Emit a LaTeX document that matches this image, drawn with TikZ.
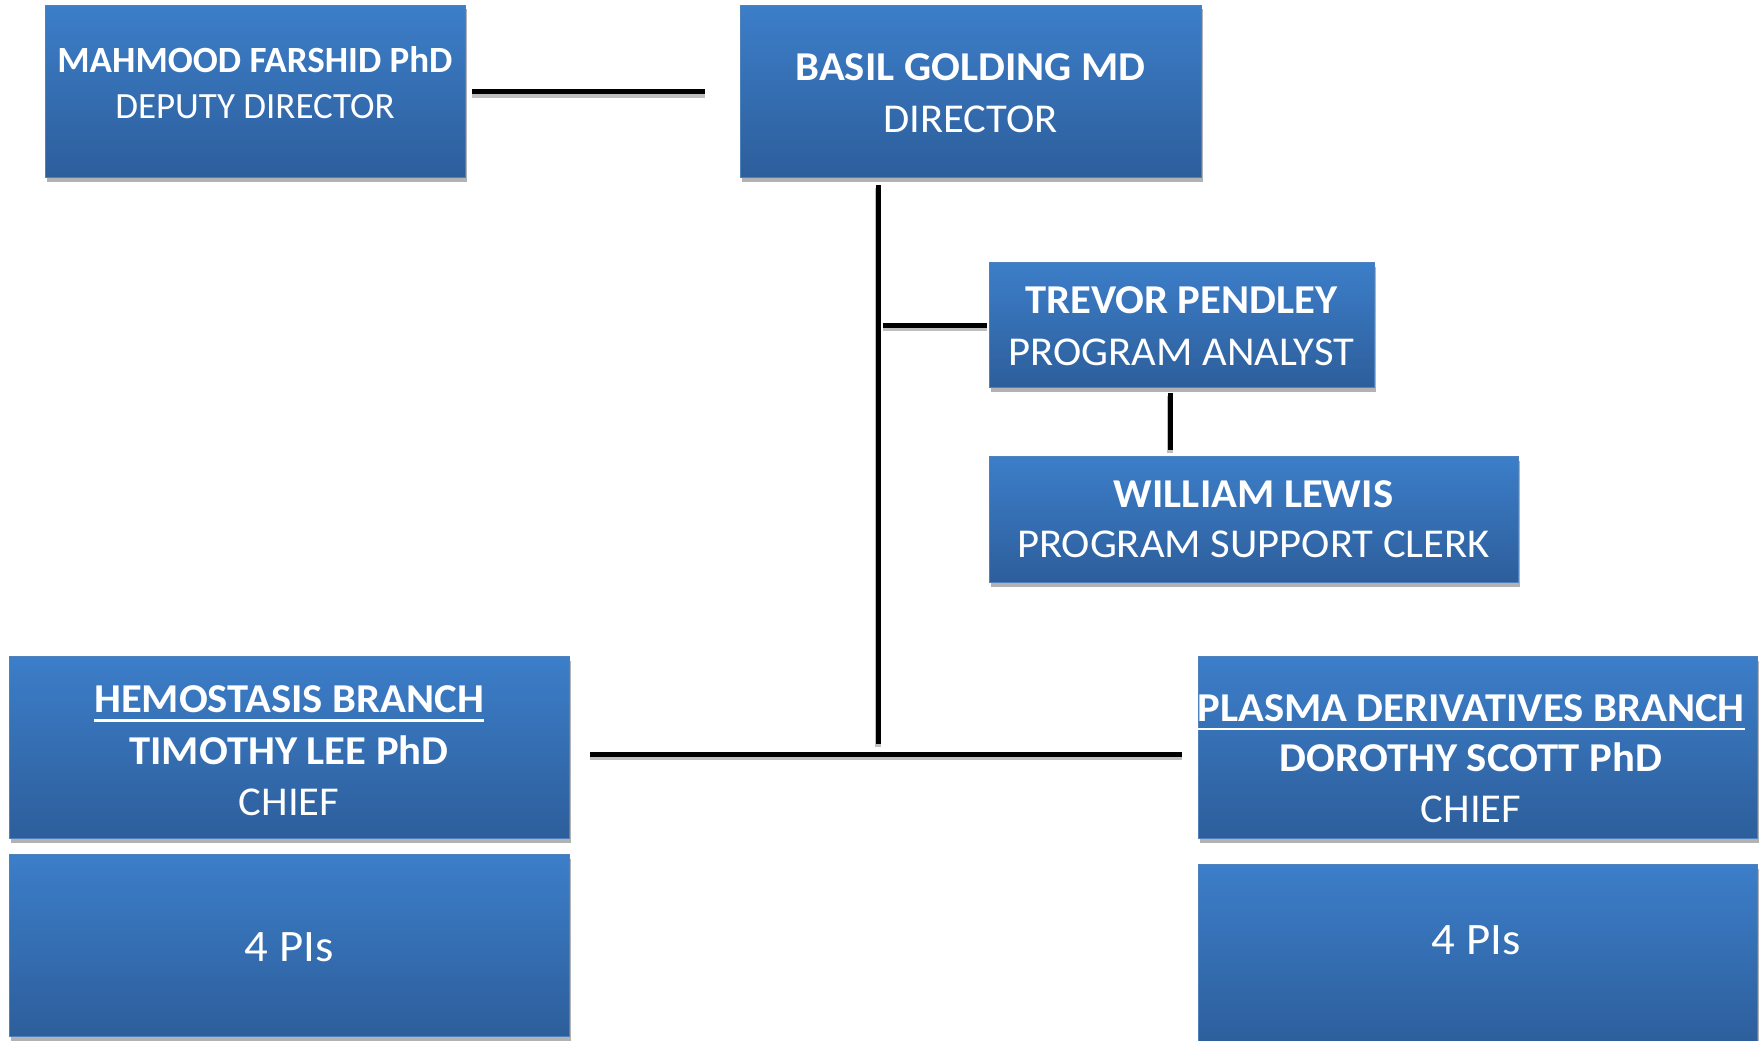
\documentclass[tikz,border=0pt]{standalone}
\usepackage{fontspec}
\setmainfont{Carlito}
\newfontfamily\widefont[FakeStretch=1.04]{Carlito}
\usetikzlibrary{shadows}
\definecolor{btop}{RGB}{60,126,201}
\definecolor{bbot}{RGB}{45,94,155}
\definecolor{bline}{RGB}{79,129,189}
\newsavebox\myulbox
\newcommand\myul[1]{\sbox\myulbox{#1}\rlap{\usebox\myulbox}\rule[-9pt]{\wd\myulbox}{2.5pt}}
\tikzset{
  box/.style={rectangle, draw=bline, line width=1pt, top color=btop, bottom color=bbot,
    inner sep=0pt, anchor=north west,
    drop shadow={shadow xshift=1pt, shadow yshift=-4pt, opacity=0.3, fill=black}},
  lbl/.style={text=white, align=center, inner sep=0pt},
  conn/.style={line width=5pt, draw=black,
    preaction={draw=black, opacity=0.25, line width=6pt, transform canvas={yshift=-3pt}}},
}
\begin{document}
\begin{tikzpicture}[x=1pt,y=-1pt]
\fill[white] (0,0) rectangle (1761,1041);
\useasboundingbox (0,0) rectangle (1761,1041);

% boxes
\node[box, minimum width=420pt, minimum height=172pt] (mah) at (45,5) {};
\node[box, minimum width=461pt, minimum height=172pt] (bas) at (740,5) {};
\node[box, minimum width=385pt, minimum height=125pt] (tre) at (989,262) {};
\node[box, minimum width=529pt, minimum height=126pt] (wil) at (989,456) {};
\node[box, minimum width=560pt, minimum height=182pt] (hem) at (9,656) {};
\node[box, minimum width=560pt, minimum height=182pt] (hpi) at (9,854) {};
\node[box, minimum width=559pt, minimum height=182pt] (pla) at (1198,656) {};
\node[box, minimum width=559pt, minimum height=180pt] (ppi) at (1198,864) {};

% texts
\node[lbl, font=\fontsize{37}{46}\selectfont] (mah-t) at (255,82.5)
  {\textbf{MAHMOOD FARSHID PhD}\\DEPUTY DIRECTOR};
\node[lbl, font=\widefont\fontsize{41}{52}\selectfont] (bas-t) at (970.5,93.5)
  {\textbf{BASIL GOLDING MD}\\DIRECTOR};
\node[lbl, font=\widefont\fontsize{41}{52}\selectfont] (tre-t) at (1181.5,326.5)
  {\textbf{TREVOR PENDLEY}\\PROGRAM ANALYST};
\node[lbl, font=\widefont\fontsize{41}{50}\selectfont] (wil-t) at (1253.5,519.5)
  {\textbf{WILLIAM LEWIS}\\PROGRAM SUPPORT CLERK};
\node[lbl, font=\widefont\fontsize{41}{51.5}\selectfont] (hem-t) at (289,751)
  {\myul{\bfseries HEMOSTASIS BRANCH}\\\textbf{TIMOTHY LEE PhD}\\CHIEF};
\node[lbl, font=\widefont\fontsize{41}{50.5}\selectfont] (pla-t) at (1471,758.5)
  {\myul{\bfseries PLASMA DERIVATIVES BRANCH}\\\textbf{DOROTHY SCOTT PhD}\\CHIEF};
\node[lbl, font=\widefont\fontsize{45}{52}\selectfont] (hpi-t) at (289,947) {4 PIs};
\node[lbl, font=\widefont\fontsize{45}{52}\selectfont] (ppi-t) at (1476,940) {4 PIs};

% connector helpers
\coordinate (junc) at (878,754);
\coordinate (twx) at (1170,420);

% connectors
\draw[conn, shorten <=6pt, shorten >=35pt] (mah.east) -- (mah.east -| bas.west);
\draw[conn, shorten <=7pt, shorten >=10pt] (bas.south -| junc) -- (junc);
\draw[conn, shorten <=5pt, shorten >=2pt] (junc |- tre.west) -- (tre.west);
\draw[conn, shorten <=5pt, shorten >=6pt] (twx |- tre.south) -- (twx |- wil.north);
\draw[conn, shorten <=20pt, shorten >=16pt] (hem.east |- junc) -- (pla.west |- junc);
\end{tikzpicture}
\end{document}
